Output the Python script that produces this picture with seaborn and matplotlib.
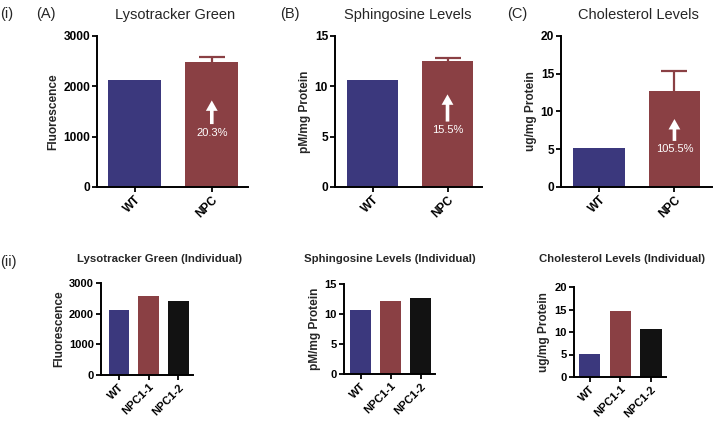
import numpy as np
import pandas as pd
import matplotlib
matplotlib.use('Agg')
import matplotlib.pyplot as plt
import seaborn as sns

# group means (top row) and individual lines (bottom row)
groups = ['WT', 'NPC']
lyso_mean = [2130, 2480]
lyso_err = 110
sphingo_mean = [10.6, 12.5]
sphingo_err = 0.3
chol_mean = [5.2, 12.7]
chol_err = 2.7
increase = ['20.3%', '15.5%', '105.5%']

lines = ['WT', 'NPC1-1', 'NPC1-2']
lyso_ind = [2130, 2560, 2400]
sphingo_ind = [10.6, 12.2, 12.7]
chol_ind = [5.2, 14.6, 10.7]

titles = ['Lysotracker Green', 'Sphingosine Levels', 'Cholesterol Levels']
ylabels = ['Fluorescence', 'pM/mg Protein', 'ug/mg Protein']
yticks = [[0, 1000, 2000, 3000], [0, 5, 10, 15], [0, 5, 10, 15, 20]]

blue = '#3b387d'
red = '#8a4044'
black = '#121212'

sns.set_style('white')
plt.rcParams['font.family'] = ['Liberation Sans', 'DejaVu Sans']

W, H = 714, 421
fig = plt.figure(figsize=(W / 100, H / 100), dpi=100)


def px_axes(x0, y0, x1, y1):
    # pixel box -> figure fraction
    return fig.add_axes([x0 / W, 1 - y1 / H, (x1 - x0) / W, (y1 - y0) / H])


def style(ax, ticks, ylabel, fs_tick):
    sns.despine(ax=ax)
    for s in ['left', 'bottom']:
        ax.spines[s].set_color('black')
        ax.spines[s].set_linewidth(1.4)
    ax.set_ylim(ticks[0], ticks[-1])
    ax.set_yticks(ticks)
    ax.tick_params(axis='both', direction='out', length=3.5, width=1.3,
                   colors='black', labelsize=fs_tick, pad=1.5)
    ax.tick_params(axis='both', left=True, bottom=True)
    ax.set_ylabel(ylabel, fontsize=8.6, fontweight='bold', labelpad=3)
    ax.set_xlabel('')
    for lab in ax.get_yticklabels():
        lab.set_fontweight('bold')
    for lab in ax.get_xticklabels():
        lab.set_fontweight('bold')
        lab.set_rotation(45)
        lab.set_ha('right')
        lab.set_rotation_mode('anchor')
    ax.set_facecolor('white')


top_boxes = [(97, 36, 248, 187), (335, 36, 482, 187), (561, 36, 712, 187)]
top_xlims = [(-0.49, 1.47), (-0.5, 1.46), (-0.51, 1.5)]
top_means = [lyso_mean, sphingo_mean, chol_mean]
top_errs = [lyso_err, sphingo_err, chol_err]
arrow_pos = [(1720, 1250, 1070), (9.2, 6.5, 5.7), (9.0, 6.1, 5.0)]
title_x = [175, 408, 638]

for i in range(3):
    ax = px_axes(*top_boxes[i])
    df = pd.DataFrame({'group': groups, 'value': top_means[i]})
    sns.barplot(data=df, x='group', y='value', hue='group',
                palette=[blue, red], width=0.69, ax=ax, legend=False,
                edgecolor='none', saturation=1)
    eb = ax.errorbar([1], [top_means[i][1]], yerr=[[0], [top_errs[i]]],
                     fmt='none', ecolor=red, elinewidth=1.6, capsize=9.5,
                     capthick=1.6)
    eb[1][0].set_visible(False)  # only the upper cap
    ax.set_xlim(*top_xlims[i])
    style(ax, yticks[i], ylabels[i], 8.6)
    head, tail, txt = arrow_pos[i]
    ax.annotate('', xy=(1, head), xytext=(1, tail),
                arrowprops=dict(facecolor='white', edgecolor='none', width=2.6,
                                headwidth=8.5, headlength=7.5, shrink=0))
    ax.text(1, txt, increase[i], color='white', fontsize=8,
            ha='center', va='center')
    fig.text(title_x[i] / W, 1 - 15 / H, titles[i], fontsize=10.5,
             ha='center', va='center')

bot_boxes = [(101, 283, 193, 375), (344, 284, 435, 374), (574, 287, 666, 377)]
bot_xlims = [(-0.6, 2.49), (-0.55, 2.48), (-0.52, 2.49)]
bot_vals = [lyso_ind, sphingo_ind, chol_ind]
for i in range(3):
    ax = px_axes(*bot_boxes[i])
    df = pd.DataFrame({'line': lines, 'value': bot_vals[i]})
    sns.barplot(data=df, x='line', y='value', hue='line',
                palette=[blue, red, black], width=0.69, ax=ax, legend=False,
                edgecolor='none', saturation=1)
    ax.set_xlim(*bot_xlims[i])
    style(ax, yticks[i], ylabels[i], 8)

# row titles of the individual panels
fig.text(160 / W, 1 - 259 / H, 'Lysotracker Green (Individual)', fontsize=8.2,
         fontweight='bold', ha='center', va='center')
fig.text(390 / W, 1 - 259 / H, 'Sphingosine Levels (Individual)', fontsize=8.2,
         fontweight='bold', ha='center', va='center')
fig.text(622 / W, 1 - 259 / H, 'Cholesterol Levels (Individual)', fontsize=8.2,
         fontweight='bold', ha='center', va='center')

# panel labels
fig.text(0 / W, 1 - 14 / H, '(i)', fontsize=10.5, va='center')
fig.text(36 / W, 1 - 14 / H, '(A)', fontsize=10.5, va='center')
fig.text(280 / W, 1 - 14 / H, '(B)', fontsize=10.5, va='center')
fig.text(507 / W, 1 - 14 / H, '(C)', fontsize=10.5, va='center')
fig.text(0 / W, 1 - 262 / H, '(ii)', fontsize=10.5, va='center')

fig.savefig('out.png', dpi=100, facecolor='white')
